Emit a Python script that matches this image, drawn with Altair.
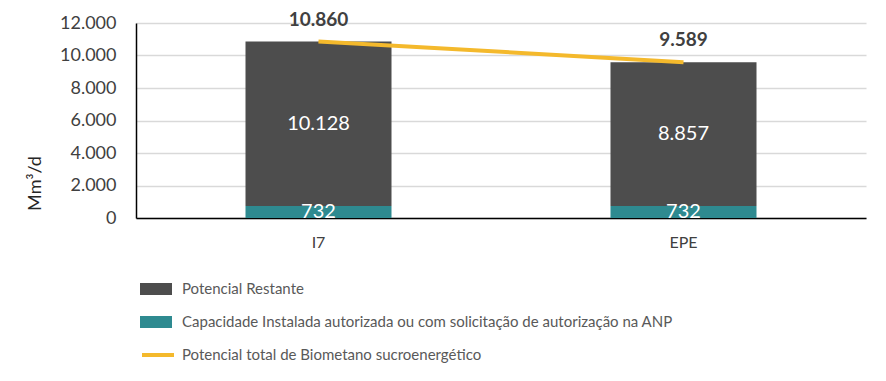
import altair as alt
import pandas as pd

categories = ["I7", "EPE"]
capacidade = [732, 732]
restante = [10128, 8857]
total = [10860, 9589]
y_ticks = [0, 2000, 4000, 6000, 8000, 10000, 12000]

s_rest = "Potencial Restante"
s_cap = "Capacidade Instalada autorizada ou com solicitação de autorização na ANP"
s_tot = "Potencial total de Biometano sucroenergético"

DARK = "#4d4d4d"
TEAL = "#2e8a90"
YELLOW = "#f4b92c"
FONT = "Lato"

rows = []
for c, cap, rest in zip(categories, capacidade, restante):
    rows.append({"cat": c, "serie": s_cap, "value": cap, "ord": 0})
    rows.append({"cat": c, "serie": s_rest, "value": rest, "ord": 1})
bars_df = pd.DataFrame(rows)
tot_df = pd.DataFrame({"cat": categories, "total": total, "serie": [s_tot] * len(categories)})

fmt = "replace(format(datum.value, ','), ',', '.')"

x_axis = alt.Axis(labelAngle=0, labelFontSize=16, labelColor="#404040",
                  labelPadding=16, domainColor="#000000", domainWidth=1.5,
                  ticks=False, tickSize=0, grid=False, title=None)
y_axis = alt.Axis(values=y_ticks, tickCount=7,
                  labelExpr=fmt, labelFontSize=18, labelColor="#404040",
                  labelOverlap=False,
                  labelPadding=20, ticks=False, tickSize=0,
                  domainColor="#000000", domainWidth=1.5,
                  gridColor="#d9d9d9", gridWidth=1.5,
                  title="Mm³/d", titleFontSize=18, titleColor="#262626",
                  titleFontWeight="normal", titleX=-101, titleY=160,
                  titleAngle=270, titleAlign="center", titleBaseline="middle")
x_scale = alt.Scale(paddingInner=0, paddingOuter=0)
y_scale = alt.Scale(domain=[0, 12000])


def X():
    return alt.X("cat:N", sort=categories, scale=x_scale, axis=x_axis, title=None)


def Y(field, **kw):
    return alt.Y(field, scale=y_scale, axis=y_axis, title="Mm³/d", **kw)


bars = alt.Chart(bars_df).mark_bar(size=146).encode(
    x=X(),
    y=Y("value:Q", stack="zero"),
    color=alt.Color("serie:N",
                    scale=alt.Scale(domain=[s_rest, s_cap], range=[DARK, TEAL]),
                    legend=alt.Legend(title=None, orient="none", legendX=4, legendY=250,
                                      symbolType="M-1,-0.375H1V0.375H-1Z", symbolSize=1024,
                                      symbolStrokeWidth=0, labelFontSize=15,
                                      labelColor="#595959", labelOffset=10,
                                      rowPadding=9, labelLimit=800)),
    order=alt.Order("ord:Q"),
)

inner = alt.Chart(bars_df).transform_stack(
    stack="value", groupby=["cat"], as_=["y0", "y1"],
    sort=[alt.SortField("ord", order="ascending")]
).transform_calculate(
    mid="(datum.y0 + datum.y1) / 2",
    label="replace(format(datum.value, ','), ',', '.')"
).mark_text(color="white", fontSize=20, baseline="middle").encode(
    x=X(),
    y=Y("mid:Q"),
    text="label:N",
)

line = alt.Chart(tot_df).mark_line(strokeWidth=4).encode(
    x=X(),
    y=Y("total:Q"),
    stroke=alt.Stroke("serie:N", scale=alt.Scale(domain=[s_tot], range=[YELLOW]),
                      legend=alt.Legend(title=None, orient="none", legendX=4, legendY=314,
                                        symbolType="stroke", symbolSize=1024,
                                        symbolStrokeWidth=4, labelFontSize=15,
                                        labelColor="#595959", labelOffset=6,
                                        labelLimit=800)),
)

tot_text = alt.Chart(tot_df).transform_calculate(
    label="replace(format(datum.total, ','), ',', '.')"
).mark_text(color="#404040", fontSize=19, fontWeight="bold", dy=-22,
            baseline="middle").encode(
    x=X(),
    y=Y("total:Q"),
    text="label:N",
)

chart = alt.layer(bars, inner, line, tot_text).resolve_scale(
    color="independent", stroke="independent"
).properties(
    width=730, height=195,
    autosize=alt.AutoSizeParams(type="none"),
    padding={"left": 128, "top": 15, "right": 10, "bottom": 150},
).configure(font=FONT).configure_view(stroke=None)

chart.save("out.html", embed_options={"renderer": "svg", "actions": False})
